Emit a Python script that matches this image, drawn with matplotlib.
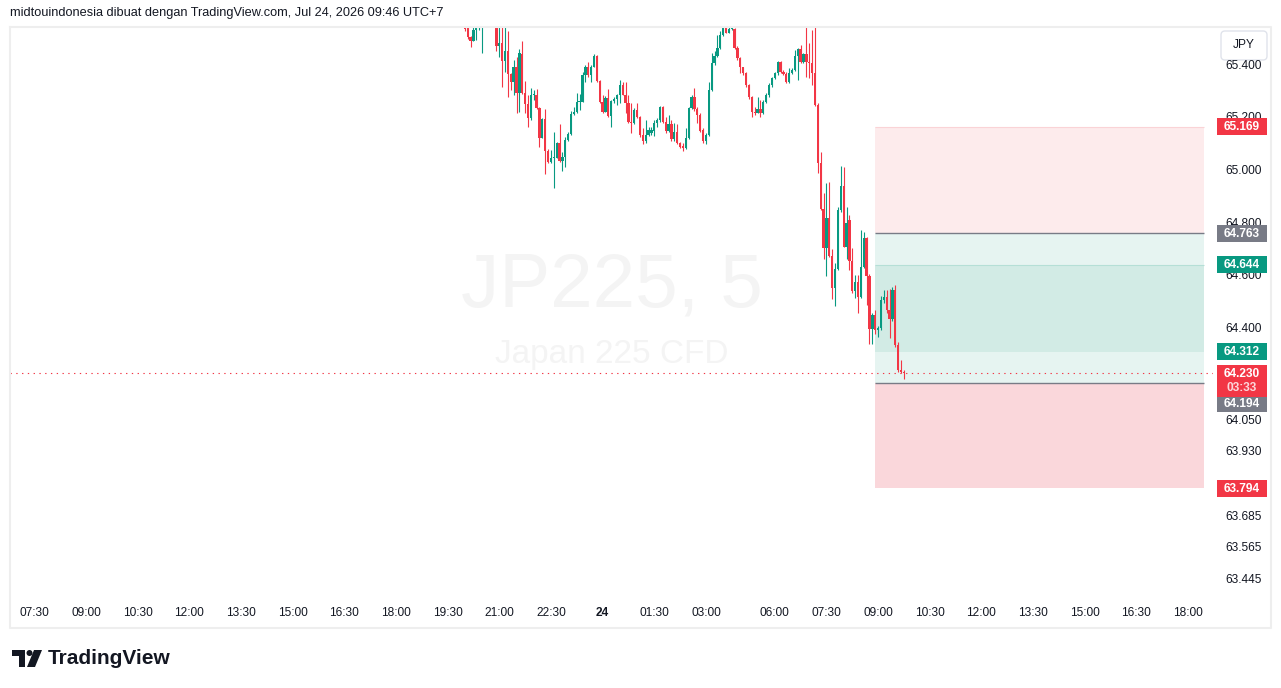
import matplotlib
matplotlib.use("Agg")
import matplotlib.pyplot as plt
from matplotlib.patches import Rectangle, FancyBboxPatch, Circle, Polygon

plt.rcParams['font.family'] = ['Liberation Sans', 'DejaVu Sans']

# 5 minute candles, JP225 CFD, from 20:00 on the 23rd to 09:45 on the 24th
opens = [65.550, 65.543, 65.509, 65.496, 65.537, 65.547, 65.552, 65.560, 65.590, 65.600,
         65.585, 65.562, 65.474, 65.489, 65.417, 65.457, 65.368, 65.340, 65.397, 65.296,
         65.446, 65.296, 65.254, 65.203, 65.290, 65.290, 65.239, 65.127, 65.198, 65.078,
         65.036, 65.049, 65.051, 65.106, 65.040, 65.055, 65.118, 65.141, 65.216, 65.224,
         65.262, 65.264, 65.366, 65.397, 65.366, 65.397, 65.439, 65.343, 65.264, 65.226,
         65.277, 65.211, 65.267, 65.274, 65.290, 65.328, 65.290, 65.258, 65.188, 65.182,
         65.233, 65.205, 65.138, 65.116, 65.138, 65.146, 65.154, 65.182, 65.195, 65.243,
         65.188, 65.154, 65.179, 65.121, 65.149, 65.108, 65.096, 65.087, 65.125, 65.239,
         65.283, 65.235, 65.214, 65.157, 65.116, 65.138, 65.309, 65.410, 65.436, 65.467,
         65.518, 65.547, 65.527, 65.539, 65.542, 65.467, 65.429, 65.395, 65.372, 65.328,
         65.281, 65.226, 65.222, 65.235, 65.220, 65.262, 65.290, 65.328, 65.353, 65.372,
         65.413, 65.378, 65.370, 65.337, 65.372, 65.385, 65.438, 65.463, 65.413, 65.446,
         65.413, 65.410, 65.372, 65.252, 65.030, 64.855, 64.709, 64.821, 64.677, 64.557,
         64.627, 64.850, 64.945, 64.713, 64.812, 64.656, 64.542, 64.577, 64.520, 64.634,
         64.744, 64.601, 64.398, 64.453, 64.396, 64.402, 64.510, 64.520, 64.472, 64.436,
         64.548, 64.339, 64.243, 64.237]
highs = [65.556, 65.550, 65.514, 65.547, 65.556, 65.562, 65.570, 65.600, 65.612, 65.608,
         65.590, 65.575, 65.550, 65.555, 65.550, 65.531, 65.372, 65.423, 65.432, 65.465,
         65.495, 65.343, 65.290, 65.315, 65.309, 65.311, 65.245, 65.201, 65.235, 65.083,
         65.080, 65.150, 65.112, 65.179, 65.074, 65.131, 65.150, 65.230, 65.243, 65.296,
         65.293, 65.376, 65.404, 65.416, 65.404, 65.444, 65.442, 65.347, 65.290, 65.287,
         65.313, 65.271, 65.283, 65.293, 65.347, 65.340, 65.340, 65.290, 65.258, 65.239,
         65.258, 65.211, 65.163, 65.195, 65.167, 65.167, 65.195, 65.200, 65.248, 65.248,
         65.207, 65.214, 65.195, 65.182, 65.179, 65.112, 65.106, 65.163, 65.243, 65.290,
         65.315, 65.243, 65.220, 65.163, 65.144, 65.340, 65.448, 65.455, 65.518, 65.531,
         65.562, 65.562, 65.556, 65.549, 65.543, 65.474, 65.433, 65.397, 65.378, 65.332,
         65.286, 65.243, 65.281, 65.271, 65.271, 65.296, 65.334, 65.359, 65.375, 65.417,
         65.417, 65.385, 65.378, 65.391, 65.391, 65.461, 65.467, 65.480, 65.448, 65.550,
         65.486, 65.537, 65.550, 65.258, 65.074, 64.918, 64.954, 64.958, 64.703, 64.649,
         64.862, 65.021, 65.017, 64.865, 64.833, 64.709, 64.605, 64.605, 64.776, 64.770,
         64.751, 64.610, 64.460, 64.470, 64.410, 64.525, 64.548, 64.548, 64.550, 64.560,
         64.565, 64.350, 64.280, 64.245]
lows = [65.531, 65.501, 65.471, 65.494, 65.499, 65.537, 65.451, 65.556, 65.575, 65.568,
        65.558, 65.455, 65.433, 65.318, 65.375, 65.283, 65.310, 65.290, 65.220, 65.226,
        65.293, 65.220, 65.169, 65.195, 65.271, 65.235, 65.093, 65.125, 64.988, 65.030,
        65.030, 64.937, 65.049, 65.036, 65.002, 65.017, 65.116, 65.138, 65.214, 65.220,
        65.233, 65.262, 65.340, 65.359, 65.338, 65.395, 65.338, 65.258, 65.222, 65.224,
        65.207, 65.169, 65.258, 65.252, 65.258, 65.288, 65.220, 65.182, 65.146, 65.179,
        65.201, 65.131, 65.103, 65.108, 65.134, 65.138, 65.134, 65.167, 65.188, 65.184,
        65.144, 65.150, 65.116, 65.116, 65.103, 65.087, 65.078, 65.083, 65.121, 65.235,
        65.230, 65.182, 65.150, 65.108, 65.103, 65.135, 65.306, 65.404, 65.433, 65.463,
        65.514, 65.524, 65.524, 65.535, 65.463, 65.423, 65.372, 65.366, 65.321, 65.276,
        65.207, 65.214, 65.220, 65.207, 65.216, 65.258, 65.283, 65.321, 65.349, 65.366,
        65.372, 65.366, 65.334, 65.334, 65.370, 65.382, 65.347, 65.410, 65.410, 65.357,
        65.353, 65.328, 65.248, 64.992, 64.850, 64.666, 64.601, 64.675, 64.514, 64.488,
        64.624, 64.846, 64.710, 64.665, 64.624, 64.538, 64.516, 64.459, 64.516, 64.630,
        64.491, 64.342, 64.342, 64.380, 64.370, 64.395, 64.500, 64.460, 64.364, 64.430,
        64.330, 64.235, 64.232, 64.208]
closes = [65.540, 65.509, 65.496, 65.537, 65.547, 65.552, 65.560, 65.590, 65.600, 65.585,
          65.565, 65.474, 65.489, 65.417, 65.457, 65.368, 65.340, 65.397, 65.296, 65.448,
          65.296, 65.254, 65.203, 65.290, 65.293, 65.239, 65.127, 65.198, 65.078, 65.036,
          65.049, 65.051, 65.106, 65.040, 65.055, 65.118, 65.141, 65.216, 65.224, 65.262,
          65.264, 65.366, 65.397, 65.366, 65.397, 65.439, 65.343, 65.264, 65.226, 65.277,
          65.211, 65.267, 65.274, 65.290, 65.328, 65.290, 65.258, 65.188, 65.182, 65.233,
          65.205, 65.138, 65.116, 65.138, 65.157, 65.157, 65.182, 65.195, 65.243, 65.188,
          65.154, 65.179, 65.121, 65.149, 65.108, 65.093, 65.087, 65.125, 65.239, 65.283,
          65.235, 65.214, 65.154, 65.116, 65.138, 65.309, 65.410, 65.436, 65.467, 65.518,
          65.543, 65.527, 65.539, 65.542, 65.467, 65.429, 65.395, 65.372, 65.328, 65.281,
          65.226, 65.222, 65.235, 65.220, 65.262, 65.290, 65.328, 65.353, 65.372, 65.413,
          65.378, 65.370, 65.337, 65.372, 65.385, 65.438, 65.463, 65.413, 65.446, 65.413,
          65.410, 65.372, 65.252, 65.030, 64.855, 64.709, 64.821, 64.677, 64.557, 64.627,
          64.850, 64.945, 64.713, 64.802, 64.656, 64.542, 64.577, 64.520, 64.634, 64.744,
          64.601, 64.398, 64.453, 64.396, 64.402, 64.510, 64.520, 64.472, 64.436, 64.548,
          64.339, 64.243, 64.237, 64.230]

price_ticks = [65.400, 65.200, 65.000, 64.800, 64.600, 64.400, 64.050, 63.930, 63.685, 63.565, 63.445]

# (day, minutes after midnight, label)
time_ticks = [(23, 450, "07:30"), (23, 540, "09:00"), (23, 630, "10:30"), (23, 720, "12:00"),
              (23, 810, "13:30"), (23, 900, "15:00"), (23, 990, "16:30"), (23, 1080, "18:00"),
              (23, 1170, "19:30"), (23, 1260, "21:00"), (23, 1350, "22:30"), (24, 0, "24"),
              (24, 90, "01:30"), (24, 180, "03:00"), (24, 360, "06:00"), (24, 450, "07:30"),
              (24, 540, "09:00"), (24, 630, "10:30"), (24, 720, "12:00"), (24, 810, "13:30"),
              (24, 900, "15:00"), (24, 990, "16:30"), (24, 1080, "18:00")]

# risk/reward tool levels
zone_top = 65.169
entry_line = 64.763
inner_top = 64.644
inner_bottom = 64.312
stop_line = 64.194
zone_bottom = 63.794
last_price = 64.230
countdown = "03:33"

GREEN = "#089981"
RED = "#f23645"
GREY = "#787b86"
TEXT = "#131722"

W, H = 1281, 688
fig = plt.figure(figsize=(W / 100, H / 100), dpi=100)
fig.patch.set_facecolor("white")

ax = fig.add_axes([10 / W, 1 - 598 / H, 1203 / W, 571 / H])
ax.set_xlim(-158.5, 260.7)
ax.set_ylim(63.376, 65.548)
ax.axis("off")

ov = fig.add_axes([0, 0, 1, 1])
ov.set_xlim(0, W)
ov.set_ylim(H, 0)
ov.axis("off")
ov.patch.set_alpha(0)


def bar_pos(day, minutes):
    # bars counted from 20:00 on the 23rd, session closed 04:00-05:00 on the 24th
    m = (day - 23) * 1440 + minutes - 1200
    n = m / 5
    if day == 24 and minutes >= 300:
        n -= 12
    return n


def px(idx):
    return ax.transData.transform((idx, 0))[0]


def py(price):
    return H - ax.transData.transform((0, price))[1]


# watermark
ax.text(0.5, 0.545, "JP225, 5", transform=ax.transAxes, ha="center", va="center",
        fontsize=55, color="#f4f4f4", zorder=0)
ax.text(0.5, 0.426, "Japan 225 CFD", transform=ax.transAxes, ha="center", va="center",
        fontsize=24, color="#f4f4f4", zorder=0)

# position tool
box_x0, box_x1 = 143, 257.5
ax.add_patch(Rectangle((box_x0, entry_line), box_x1 - box_x0, zone_top - entry_line,
                       fc="#fdebec", ec="none", zorder=1))
ax.add_patch(Rectangle((box_x0, stop_line), box_x1 - box_x0, entry_line - stop_line,
                       fc="#e6f4f1", ec="none", zorder=1))
ax.add_patch(Rectangle((box_x0, inner_bottom), box_x1 - box_x0, inner_top - inner_bottom,
                       fc="#d2ebe5", ec="none", zorder=1))
ax.add_patch(Rectangle((box_x0, zone_bottom), box_x1 - box_x0, stop_line - zone_bottom,
                       fc="#fad7db", ec="none", zorder=1))
ax.hlines([inner_top], box_x0, box_x1, color="#b5dfd6", lw=0.8, zorder=1.5)
ax.hlines([zone_top], box_x0, box_x1, color="#fad3d6", lw=0.8, zorder=1.5)
ax.hlines([entry_line, stop_line], box_x0, box_x1, color=GREY, lw=1.0, zorder=1.5)

# last price line
ax.axhline(last_price, color=RED, lw=0.8, ls=(0, (1.2, 4)), zorder=1.6)

# candles
idx = list(range(len(closes)))
cols = [GREEN if c >= o else RED for o, c in zip(opens, closes)]
ax.vlines(idx, lows, highs, colors=cols, lw=0.8, zorder=2)
bottoms = [min(o, c) for o, c in zip(opens, closes)]
heights = [max(abs(c - o), 0.004) for o, c in zip(opens, closes)]
ax.bar(idx, heights, bottom=bottoms, width=0.8, color=cols, linewidth=0, zorder=3)

# frame
ov.plot([10, 1271, 1271, 10, 10], [27, 27, 628, 628, 27], color="#eeeeee", lw=1.5)

# header
ov.text(10, 13, "midtouindonesia dibuat dengan TradingView.com, Jul 24, 2026 09:46 UTC+7",
        fontsize=9.2, color=TEXT, va="center", ha="left")

# time axis
for day, minutes, lab in time_ticks:
    ov.text(px(bar_pos(day, minutes)), 613, lab, fontsize=8.6, color=TEXT, ha="center",
            va="center", fontweight="bold" if lab == "24" else "normal")

# price axis
for p in price_ticks:
    ov.text(1244, py(p), f"{p:.3f}", fontsize=8.6, color=TEXT, ha="center", va="center")

ov.add_patch(FancyBboxPatch((1221, 31), 46, 29, boxstyle="round,pad=0,rounding_size=4",
                            fc="white", ec="#e0e3eb", lw=1))
ov.text(1244, 45.5, "JPY", fontsize=8.6, color=TEXT, ha="center", va="center")


def price_label(price, color, shift=0):
    y = py(price) + shift
    ov.add_patch(Rectangle((1217, y - 8.5), 50, 17, fc=color, ec="none", zorder=5))
    ov.text(1242, y + 0.5, f"{price:.3f}", fontsize=8.6, color="white", ha="center",
            va="center", fontweight="bold", zorder=6)


price_label(zone_top, RED)
price_label(entry_line, GREY)
price_label(inner_top, GREEN)
price_label(inner_bottom, GREEN)
price_label(zone_bottom, RED)
price_label(stop_line, GREY, shift=21)

y_last = py(last_price)
ov.add_patch(Rectangle((1217, y_last - 8.5), 50, 32, fc=RED, ec="none", zorder=5))
ov.text(1242, y_last + 0.5, f"{last_price:.3f}", fontsize=8.6, color="white", ha="center",
        va="center", fontweight="bold", zorder=6)
ov.text(1242, y_last + 15, countdown, fontsize=8.6, color="#fcd7db", ha="center",
        va="center", fontweight="bold", zorder=6)

# TradingView logo
ov.add_patch(Polygon([(12, 650), (25, 650), (25, 667), (19, 667), (19, 656), (12, 656)],
                     closed=True, fc=TEXT, ec="none"))
ov.add_patch(Circle((29.5, 653), 3, fc=TEXT, ec="none"))
ov.add_patch(Polygon([(34, 650), (42, 650), (35, 667), (27, 667)], closed=True, fc=TEXT, ec="none"))
ov.text(48, 658.5, "TradingView", fontsize=15, fontweight="bold", color=TEXT, ha="left", va="center")

fig.savefig("out.png", dpi=100)
